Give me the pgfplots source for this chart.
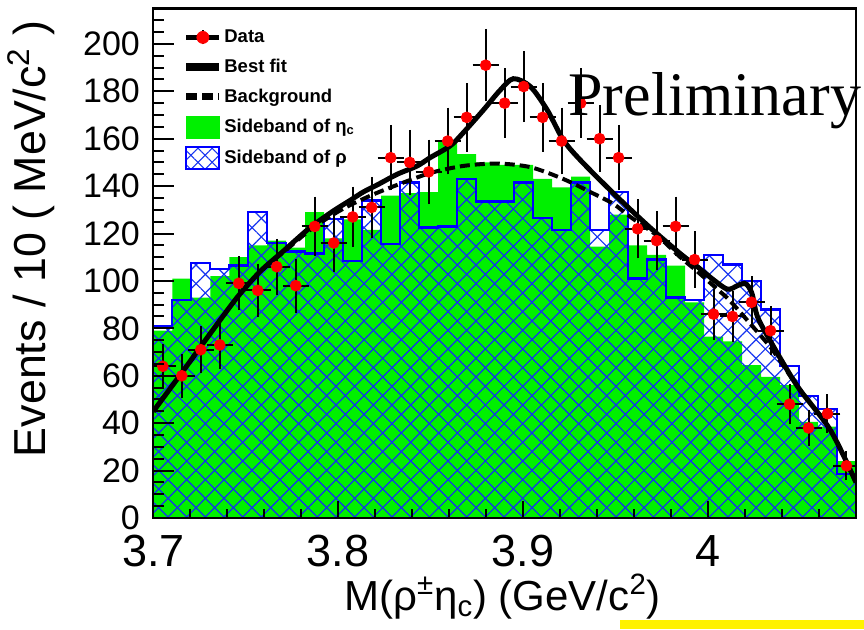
\documentclass[border=0pt]{standalone}
\usepackage{fontspec}
\setmainfont{Liberation Sans}
\newfontfamily\timesfont{Liberation Serif}
\usepackage{pgfplots}
\pgfplotsset{compat=1.18}
\usetikzlibrary{patterns.meta}
\definecolor{rootgreen}{RGB}{0,240,0}
\definecolor{hatchblue}{RGB}{20,50,240}
\definecolor{lineblue}{RGB}{0,0,255}

\begin{document}
\begin{tikzpicture}[x=1pt,y=1pt]
\begin{axis}[
  at={(76.65pt,55.5pt)}, anchor=south west,
  scale only axis, width=351.35pt, height=254.85pt,
  xmin=3.7, xmax=4.08, ymin=0, ymax=215,
  axis on top,
  axis line style={line width=1.2pt},
  tick align=inside, xtick pos=bottom,
  xtick={3.7,3.8,3.9,4.0}, xticklabels={3.7,3.8,3.9,4},
  minor xtick={3.72,3.74,3.76,3.78,3.82,3.84,3.86,3.88,3.92,3.94,3.96,3.98,4.02,4.04,4.06},
  ytick=\empty,
  major tick length=8.5pt, minor tick length=4.3pt,
  every tick/.style={black, line width=1pt},
  /pgf/number format/assume math mode=true,
  xticklabel style={font=\fontsize{22.5}{24}\selectfont, anchor=north, inner sep=0pt, yshift=-8.5pt},
  xlabel={M(ρ\textsuperscript{±}η\textsubscript{c}) (GeV/c\textsuperscript{2})},
  xlabel style={at={(axis description cs:0.497,-0.1805)}, anchor=base, inner sep=0pt, font=\fontsize{21}{24}\selectfont},
  ylabel={Events / 10 ( MeV/c\textsuperscript{2} )},
  ylabel style={at={(axis description cs:-0.1541,0.977)}, anchor=base east, inner sep=0pt, font=\fontsize{22.4}{26}\selectfont},
  legend style={at={(axis description cs:0.0408,0.9653)}, anchor=north west, draw=none, fill=none,
    inner sep=0pt, row sep=3.9pt, column sep=0.5pt,
    font=\bfseries\fontsize{9.25}{11}\selectfont, nodes={inner sep=0pt}},
  legend cell align=left,
]
% Sideband of eta_c (green)
\addplot[forget plot, const plot, draw=none, fill=rootgreen] coordinates {
(3.70000,79) (3.71027,101) (3.72054,93) (3.73081,102) (3.74108,110) (3.75135,115) (3.76162,117) (3.77189,114) (3.78216,129) (3.79243,118) (3.80270,126) (3.81297,121.5) (3.82324,136) (3.83351,137) (3.84378,137.5) (3.85405,158.5) (3.86432,153.5) (3.87459,150) (3.88486,149) (3.89514,149) (3.90541,143) (3.91568,139.5) (3.92595,144) (3.93622,114.5) (3.94649,128) (3.95676,115) (3.96703,111) (3.97730,106.5) (3.98757,91) (3.99784,76.5) (4.00811,74.5) (4.01838,64.5) (4.02865,59.5) (4.03892,56) (4.04919,40.5) (4.05946,38.5) (4.06973,24) (4.08000,24)
} \closedcycle;
% Sideband of rho (blue hatch)
\addplot[forget plot, const plot, draw=none, pattern={Lines[angle=45,distance=6.6pt,line width=0.6pt]}, pattern color=hatchblue] coordinates {
(3.70000,81) (3.71027,92) (3.72054,107.5) (3.73081,105) (3.74108,106.5) (3.75135,129) (3.76162,116) (3.77189,112.5) (3.78216,111.5) (3.79243,126) (3.80270,108.5) (3.81297,134) (3.82324,115.5) (3.83351,141.5) (3.84378,122.5) (3.85405,123) (3.86432,143) (3.87459,133.5) (3.88486,133.5) (3.89514,141.5) (3.90541,126.5) (3.91568,121.5) (3.92595,141.5) (3.93622,121.5) (3.94649,137.5) (3.95676,101) (3.96703,109) (3.97730,93) (3.98757,92) (3.99784,111) (4.00811,107) (4.01838,100) (4.02865,88) (4.03892,64) (4.04919,51.5) (4.05946,46) (4.06973,18.5) (4.08000,18.5)
} \closedcycle;
\addplot[forget plot, const plot, draw=none, pattern={Lines[angle=-45,distance=6.6pt,line width=0.6pt]}, pattern color=hatchblue] coordinates {
(3.70000,81) (3.71027,92) (3.72054,107.5) (3.73081,105) (3.74108,106.5) (3.75135,129) (3.76162,116) (3.77189,112.5) (3.78216,111.5) (3.79243,126) (3.80270,108.5) (3.81297,134) (3.82324,115.5) (3.83351,141.5) (3.84378,122.5) (3.85405,123) (3.86432,143) (3.87459,133.5) (3.88486,133.5) (3.89514,141.5) (3.90541,126.5) (3.91568,121.5) (3.92595,141.5) (3.93622,121.5) (3.94649,137.5) (3.95676,101) (3.96703,109) (3.97730,93) (3.98757,92) (3.99784,111) (4.00811,107) (4.01838,100) (4.02865,88) (4.03892,64) (4.04919,51.5) (4.05946,46) (4.06973,18.5) (4.08000,18.5)
} \closedcycle;
\addplot[forget plot, const plot, draw=lineblue, line width=1.2pt] coordinates {
(3.70000,81) (3.71027,92) (3.72054,107.5) (3.73081,105) (3.74108,106.5) (3.75135,129) (3.76162,116) (3.77189,112.5) (3.78216,111.5) (3.79243,126) (3.80270,108.5) (3.81297,134) (3.82324,115.5) (3.83351,141.5) (3.84378,122.5) (3.85405,123) (3.86432,143) (3.87459,133.5) (3.88486,133.5) (3.89514,141.5) (3.90541,126.5) (3.91568,121.5) (3.92595,141.5) (3.93622,121.5) (3.94649,137.5) (3.95676,101) (3.96703,109) (3.97730,93) (3.98757,92) (3.99784,111) (4.00811,107) (4.01838,100) (4.02865,88) (4.03892,64) (4.04919,51.5) (4.05946,46) (4.06973,18.5) (4.08000,18.5)
};
% Background (dashed)
\addplot[forget plot, smooth, black, line width=2pt, dash pattern=on 5pt off 2.5pt] coordinates {
(3.7000,45) (3.7161,62) (3.7291,76) (3.7453,93) (3.7578,104) (3.7702,112) (3.7848,121.5) (3.7973,128) (3.8065,132) (3.8190,136.5) (3.8319,140.5) (3.8497,145.5) (3.8676,148.5) (3.8860,149.5) (3.9039,148) (3.9217,143) (3.9363,137.5) (3.9488,132.5) (3.9580,127) (3.9726,119) (3.9850,110) (3.9942,104) (4.0050,96.5) (4.0120,91.5) (4.0267,78.5) (4.0338,72) (4.0392,66) (4.0484,55.5) (4.0662,37) (4.0800,15)
};
% Best fit (solid)
\addplot[forget plot, smooth, black, line width=2.5pt] coordinates {
(3.7000,45) (3.7161,62) (3.7291,76) (3.7453,93) (3.7578,104) (3.7702,112.5) (3.7848,122.5) (3.7973,129.5) (3.8065,134) (3.8135,137.5) (3.8211,140.5) (3.8319,145) (3.8427,148.5) (3.8497,152) (3.8606,157) (3.8676,162.5) (3.8784,172) (3.8876,180.5) (3.8947,185.3) (3.9039,182) (3.9131,172) (3.9217,159.5) (3.9309,151) (3.9488,137) (3.9672,123.5) (3.9850,111.5) (3.9942,106) (4.0029,100.5) (4.0105,96.5) (4.0159,98) (4.0197,99) (4.0220,97.5) (4.0240,94) (4.0267,85) (4.0338,74.5) (4.0484,55.5) (4.0662,37) (4.0800,15)
};
% Data
\addplot[forget plot, only marks, mark=*, mark size=2.7pt, mark options={fill=red, draw=red},
  error bars/.cd, x dir=both, x explicit, y dir=both, y explicit,
  error bar style={line width=1pt, black},
  error mark options={black, line width=1pt, mark size=1.75pt}]
table[x=x, y=y, x error=ex, y error=ey] {
x y ex ey
3.70514 64 0.005135 8.00
3.71541 60 0.005135 7.75
3.72568 71 0.005135 8.43
3.73595 73 0.005135 8.54
3.74622 99 0.005135 9.95
3.75649 96 0.005135 9.80
3.76676 106 0.005135 10.30
3.77703 98 0.005135 9.90
3.78730 123 0.005135 11.09
3.79757 116 0.005135 10.77
3.80784 127 0.005135 11.27
3.81811 131 0.005135 11.45
3.82838 152 0.005135 12.33
3.83865 150 0.005135 12.25
3.84892 146 0.005135 12.08
3.85919 159 0.005135 12.61
3.86946 169 0.005135 13.00
3.87973 191 0.005135 13.82
3.89000 175 0.005135 13.23
3.90027 182 0.005135 13.49
3.91054 169 0.005135 13.00
3.92081 159 0.005135 12.61
3.93108 175 0.005135 13.23
3.94135 160 0.005135 12.65
3.95162 152 0.005135 12.33
3.96189 122 0.005135 11.05
3.97216 117 0.005135 10.82
3.98243 123 0.005135 11.09
3.99270 109 0.005135 10.44
4.00297 86 0.005135 9.27
4.01324 85 0.005135 9.22
4.02351 91 0.005135 9.54
4.03378 79 0.005135 8.89
4.04405 48 0.005135 6.93
4.05432 38 0.005135 6.16
4.06459 44 0.005135 6.63
4.07486 22 0.005135 4.69
};
% Legend
\addlegendimage{legend image code/.code={
  \path[draw=none, fill=none] (0pt,-5.5pt) rectangle (16.5pt,5.5pt);
  \draw[black, line width=2.5pt] (0pt,0pt) -- (16.5pt,0pt);
  \draw[black, line width=1pt] (8.25pt,-3.5pt) -- (8.25pt,3.5pt);
  \fill[red] (8.25pt,0pt) circle (3pt);
}}
\addlegendentry{Data}
\addlegendimage{legend image code/.code={
  \path[draw=none, fill=none] (0pt,-5.5pt) rectangle (16.5pt,5.5pt);
  \draw[black, line width=4pt] (0pt,0pt) -- (16.5pt,0pt);
}}
\addlegendentry{Best fit}
\addlegendimage{legend image code/.code={
  \path[draw=none, fill=none] (0pt,-5.5pt) rectangle (16.5pt,5.5pt);
  \draw[black, line width=3.5pt, dash pattern=on 5.5pt off 2.5pt] (0pt,0pt) -- (16.5pt,0pt);
}}
\addlegendentry{Background}
\addlegendimage{legend image code/.code={
  \fill[rootgreen] (0pt,-5.5pt) rectangle (16.5pt,5.5pt);
}}
\addlegendentry{Sideband of η\textsubscript{c}}
\addlegendimage{legend image code/.code={
  \fill[pattern={Lines[angle=45,distance=5pt,line width=0.5pt]}, pattern color=hatchblue] (0pt,-5.5pt) rectangle (16.5pt,5.5pt);
  \fill[pattern={Lines[angle=-45,distance=5pt,line width=0.5pt]}, pattern color=hatchblue] (0pt,-5.5pt) rectangle (16.5pt,5.5pt);
  \draw[lineblue, line width=1pt] (0pt,-5.5pt) rectangle (16.5pt,5.5pt);
}}
\addlegendentry{Sideband of ρ}
\end{axis}
\begin{axis}[
  at={(76.65pt,55.5pt)}, anchor=south west,
  scale only axis, width=351.35pt, height=254.85pt,
  xmin=3.7, xmax=4.08, ymin=0, ymax=215,
  axis line style={draw=none},
  tick align=inside, ytick pos=left,
  xtick=\empty,
  ytick={0,20,40,60,80,100,120,140,160,180,200},
  yticklabels={0,20,40,60,80,100,120,140,160,180,200},
  minor ytick={0,5,...,215},
  major tick length=10.5pt, minor tick length=5.5pt,
  every tick/.style={black, line width=1pt},
  /pgf/number format/assume math mode=true,
  yticklabel style={font=\fontsize{17}{19}\selectfont, anchor=east, inner sep=0pt, xshift=-6.5pt},
]
\end{axis}
\node[anchor=base west, font=\timesfont\fontsize{31}{36}\selectfont, inner sep=0pt] at (284,257) {Preliminary};
\fill[yellow] (310,0) rectangle (432,4.3);
\pgfresetboundingbox
\useasboundingbox (0,0) rectangle (432,314.5);
\end{tikzpicture}
\end{document}
